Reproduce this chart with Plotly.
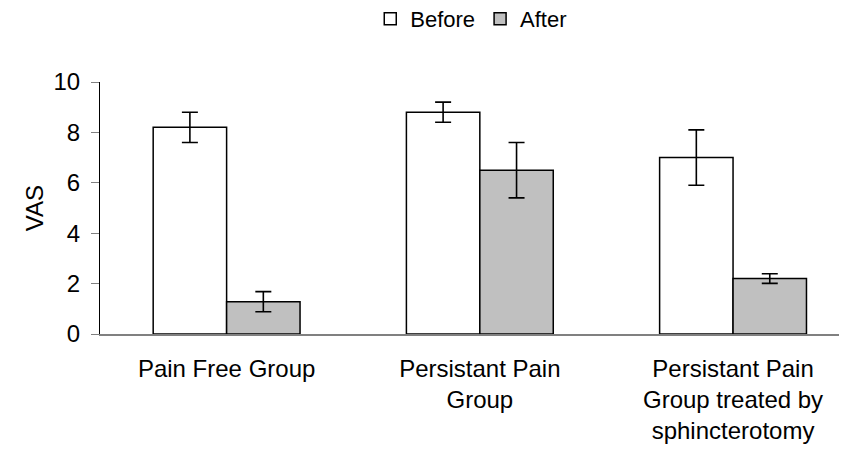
import plotly.graph_objects as go

categories = ["Pain Free Group", "Persistant Pain<br>Group", "Persistant Pain<br>Group treated by<br>sphincterotomy"]
before_values = [8.2, 8.8, 7.0]
before_errors = [0.6, 0.4, 1.1]
after_values = [1.28, 6.5, 2.2]
after_errors = [0.4, 1.1, 0.19]
y_ticks = [0, 2, 4, 6, 8, 10]

FONT = "Liberation Sans, Arial, sans-serif"

fig = go.Figure()
fig.add_trace(go.Bar(
    name="Before", x=categories, y=before_values,
    marker=dict(color="white", line=dict(color="black", width=1.5)),
    error_y=dict(type="data", array=before_errors, visible=True,
                 color="black", thickness=1.6, width=8),
))
fig.add_trace(go.Bar(
    name="After", x=categories, y=after_values,
    marker=dict(color="#c0c0c0", line=dict(color="black", width=1.5)),
    error_y=dict(type="data", array=after_errors, visible=True,
                 color="black", thickness=1.6, width=8),
))

# page body has an 8px margin, so the figure is shrunk by 8px
fig.update_layout(
    width=839, height=444,
    margin=dict(l=92, r=0, t=74, b=118, autoexpand=False),
    paper_bgcolor="white", plot_bgcolor="white",
    font=dict(family=FONT, size=24, color="black"),
    barmode="group", bargap=0.42, bargroupgap=0,
    showlegend=True,
    legend=dict(orientation="h", x=0.497, xanchor="center", y=1.25, yanchor="middle",
                font=dict(size=22), itemwidth=30,
                bgcolor="rgba(0,0,0,0)"),
)
fig.update_xaxes(
    type="category", range=[-0.5, 2.45],
    showline=True, linecolor="#808080", linewidth=2,
    ticks="", showgrid=False, zeroline=False,
    tickfont=dict(size=24), ticklabelstandoff=12, automargin=False,
)
fig.update_yaxes(
    range=[0, 10], tickvals=y_ticks,
    showline=True, linecolor="black", linewidth=1,
    ticks="outside", ticklen=8, tickcolor="#808080", tickwidth=1,
    showgrid=False, zeroline=False,
    tickfont=dict(size=24), ticklabelstandoff=6,
    title=dict(text="VAS", font=dict(size=24), standoff=3),
    automargin=False,
)

fig.write_html("out.html")
